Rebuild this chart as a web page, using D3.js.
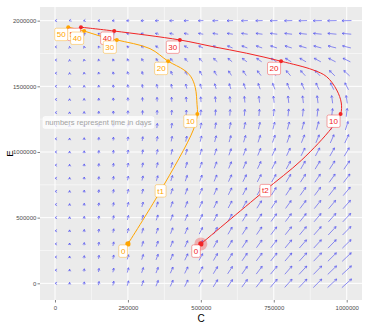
<!DOCTYPE html>
<html>
<head>
<meta charset="utf-8">
<script src="https://cdn.jsdelivr.net/npm/d3@7"></script>
<style>
  html, body { margin: 0; padding: 0; background: #fff; }
  svg { display: block; font-family: "Liberation Sans", Arial, sans-serif; }
</style>
</head>
<body>
<svg id="chart" width="365" height="323"></svg>
<script>
// ---- vector field grid ----
const fieldC = [0, 50000, 100000, 150000, 200000, 250000, 300000, 350000, 400000, 450000, 500000,
                550000, 600000, 650000, 700000, 750000, 800000, 850000, 900000, 950000, 1000000];
const fieldE = [0, 100000, 200000, 300000, 400000, 500000, 600000, 700000, 800000, 900000, 1000000,
                1100000, 1200000, 1300000, 1400000, 1500000, 1600000, 1700000, 1800000, 1900000, 2000000];
// per-capita change of C per day, one value per E row
const rateC = [0.188, 0.174, 0.160, 0.146, 0.132, 0.118, 0.104, 0.090, 0.076, 0.062, 0.049,
               0.035, 0.021, 0.007, -0.007, -0.021, -0.035, -0.049, -0.063, -0.076, -0.090];
// change of E per day, one value per E row
const rateE = [168300, 159800, 151300, 142800, 134300, 125800, 117300, 108800, 100300, 91800, 83300,
               74800, 66300, 57800, 49300, 40800, 32300, 23800, 15300, 6800, -1700];

// ---- trajectories ----
const labelTimes = [0, 10, 20, 30, 40, 50];
const labelE  = [300000, 1289000, 1691000, 1853000, 1921000, 1950000];
const t2LabelC = [500000, 979000, 775000, 428000, 203000, 89000];
const t1LabelC = [250000, 488000, 388000, 212000, 100000, 45500];

const t2PathC = [500000, 713000, 845700, 948500, 979000, 981400, 965700, 931400, 884400, 775000, 657000, 541600, 428000, 203000, 89000];
const t2PathE = [300000, 695000, 939000, 1183000, 1289000, 1373000, 1472000, 1573000, 1625000, 1691000, 1752000, 1802000, 1853000, 1921000, 1950000];
const t1PathC = [250000, 360000, 474000, 488000, 487000, 481000, 466000, 442000, 388000, 325700, 212000, 154300, 100000, 45500];
const t1PathE = [300000, 697600, 1167500, 1289000, 1360000, 1490000, 1573000, 1625000, 1691000, 1787000, 1853000, 1883000, 1921000, 1950000];

const seriesNames = ["t1", "t2"];
const nameC = [362000, 721000];
const nameE = [704000, 706000];

const noteText = "numbers represent time in days";
const noteC = 148500, noteE = 1225000;

const xTicks = [0, 250000, 500000, 750000, 1000000];
const xMinor = [125000, 375000, 625000, 875000];
const yTicks = [0, 500000, 1000000, 1500000, 2000000];
const yMinor = [250000, 750000, 1250000, 1750000];

// ---- layout ----
const panel = { left: 40, right: 362, top: 7, bottom: 300 };
const x = d3.scaleLinear().domain([-51400, 1052400]).range([panel.left, panel.right]);
const y = d3.scaleLinear().domain([-127000, 2104000]).range([panel.bottom, panel.top]);

const svg = d3.select("#chart");

svg.append("rect")
  .attr("x", panel.left).attr("y", panel.top)
  .attr("width", panel.right - panel.left).attr("height", panel.bottom - panel.top)
  .attr("fill", "#EBEBEB");

const grid = svg.append("g");
grid.selectAll(".xminor").data(xMinor).join("line")
  .attr("x1", d => x(d)).attr("x2", d => x(d))
  .attr("y1", panel.top).attr("y2", panel.bottom)
  .attr("stroke", "#fff").attr("stroke-width", 0.5);
grid.selectAll(".yminor").data(yMinor).join("line")
  .attr("y1", d => y(d)).attr("y2", d => y(d))
  .attr("x1", panel.left).attr("x2", panel.right)
  .attr("stroke", "#fff").attr("stroke-width", 0.5);
grid.selectAll(".xmajor").data(xTicks).join("line")
  .attr("x1", d => x(d)).attr("x2", d => x(d))
  .attr("y1", panel.top).attr("y2", panel.bottom)
  .attr("stroke", "#fff").attr("stroke-width", 1);
grid.selectAll(".ymajor").data(yTicks).join("line")
  .attr("y1", d => y(d)).attr("y2", d => y(d))
  .attr("x1", panel.left).attr("x2", panel.right)
  .attr("stroke", "#fff").attr("stroke-width", 1);

// ---- vector field arrows ----
const arrows = [];
fieldE.forEach((e, i) => {
  fieldC.forEach(c => {
    arrows.push({ c, e, dC: c * rateC[i], dE: rateE[i] });
  });
});
const maxMag = d3.max(arrows, a => Math.hypot(a.dC, a.dE));
const maxC = d3.max(fieldC);

function arrowPath(a) {
  const cx = x(a.c), cy = y(a.e);
  const head = 2.4, spread = Math.PI / 6;
  let ux, uy, len;
  if (a.c === 0) {
    ux = -1; uy = 0; len = 0;
  } else {
    const mag = Math.hypot(a.dC, a.dE);
    ux = a.dC / mag; uy = -a.dE / mag;
    len = 13 * Math.pow(a.c / maxC, 0.6) * Math.pow(mag / maxMag, 0.3);
  }
  const x0 = cx - ux * len / 2, y0 = cy - uy * len / 2;
  const x1 = cx + ux * len / 2, y1 = cy + uy * len / 2;
  const ang = Math.atan2(uy, ux) + Math.PI;
  const hx1 = x1 + head * Math.cos(ang - spread), hy1 = y1 + head * Math.sin(ang - spread);
  const hx2 = x1 + head * Math.cos(ang + spread), hy2 = y1 + head * Math.sin(ang + spread);
  return `M${x0},${y0}L${x1},${y1}M${hx1},${hy1}L${x1},${y1}L${hx2},${hy2}`;
}

svg.append("g").selectAll("path").data(arrows).join("path")
  .attr("d", arrowPath)
  .attr("fill", "none")
  .attr("stroke", "#4F4FF0")
  .attr("stroke-opacity", 0.85)
  .attr("stroke-width", 0.75)
  .attr("stroke-linejoin", "miter");

// ---- trajectories ----
const line = d3.line().x(d => x(d[0])).y(d => y(d[1])).curve(d3.curveCatmullRom.alpha(0.5));
const series = [
  { name: seriesNames[0], color: "#FFA500", pathC: t1PathC, pathE: t1PathE, labC: t1LabelC, nC: nameC[0], nE: nameE[0] },
  { name: seriesNames[1], color: "#F22424", pathC: t2PathC, pathE: t2PathE, labC: t2LabelC, nC: nameC[1], nE: nameE[1] }
];

// red start highlight
svg.append("circle")
  .attr("cx", x(t2LabelC[0])).attr("cy", y(labelE[0])).attr("r", 6.5)
  .attr("fill", "#F22424").attr("fill-opacity", 0.3);

[series[1], series[0]].forEach(s => {
  svg.append("path")
    .attr("d", line(s.pathC.map((c, i) => [c, s.pathE[i]])))
    .attr("fill", "none").attr("stroke", s.color).attr("stroke-width", 1);
});

[series[1], series[0]].forEach(s => {
  svg.append("g").selectAll("circle").data(labelTimes).join("circle")
    .attr("cx", (d, i) => x(s.labC[i])).attr("cy", (d, i) => y(labelE[i]))
    .attr("r", (d, i) => i === 0 ? 2.6 : 2)
    .attr("fill", s.color);
});

// label box helper: anchor = "tr" puts top-right corner at the point, "c" centers it
function drawLabel(g, px, py, text, color, anchor, fontSize) {
  const lg = g.append("g");
  const t = lg.append("text").text(text)
    .attr("font-size", fontSize).attr("fill", color)
    .attr("text-anchor", "middle");
  const bb = t.node().getBBox();
  const padX = 1.8, padY = 1.6;
  const w = bb.width + 2 * padX, h = fontSize * 1.15 + 2 * padY;
  let bx, by;
  if (anchor === "tr") { bx = px - w - 0.5; by = py + 1; }
  else { bx = px - w / 2; by = py - h / 2; }
  lg.insert("rect", "text")
    .attr("x", bx).attr("y", by).attr("width", w).attr("height", h)
    .attr("rx", 1.6).attr("ry", 1.6)
    .attr("fill", "#fff")
    .attr("stroke", color).attr("stroke-opacity", 0.45).attr("stroke-width", 0.9);
  t.attr("x", bx + w / 2).attr("y", by + padY + fontSize * 0.92);
}

const labels = svg.append("g");
[series[1], series[0]].forEach(s => {
  labelTimes.forEach((tm, i) => {
    drawLabel(labels, x(s.labC[i]), y(labelE[i]), String(tm), s.color, "tr", 8);
  });
  drawLabel(labels, x(s.nC), y(s.nE), s.name, s.color, "c", 8);
});

// note
(function () {
  const g = svg.append("g");
  const t = g.append("text").text(noteText)
    .attr("font-size", 7.6).attr("fill", "#A3A3A3").attr("text-anchor", "middle")
    .attr("x", x(noteC)).attr("y", y(noteE) + 2.6);
  const bb = t.node().getBBox();
  g.insert("rect", "text")
    .attr("x", bb.x - 2).attr("y", y(noteE) - 5.8)
    .attr("width", bb.width + 4).attr("height", 11.6)
    .attr("rx", 1.5)
    .attr("fill", "#fff").attr("fill-opacity", 0.75)
    .attr("stroke", "#fff").attr("stroke-width", 0.8);
})();

// ---- axes ----
const xAxis = svg.append("g")
  .attr("transform", `translate(0,${panel.bottom})`)
  .call(d3.axisBottom(x).tickValues(xTicks).tickFormat(d3.format("d")).tickSize(2.5).tickPadding(3.5));
const yAxis = svg.append("g")
  .attr("transform", `translate(${panel.left},0)`)
  .call(d3.axisLeft(y).tickValues(yTicks).tickFormat(d3.format("d")).tickSize(2.5).tickPadding(1.2));
[xAxis, yAxis].forEach(a => {
  a.select(".domain").remove();
  a.selectAll(".tick line").attr("stroke", "#333").attr("stroke-width", 0.6);
  a.selectAll(".tick text").attr("fill", "#4D4D4D").attr("font-size", 6)
    .attr("font-family", "Liberation Sans, Arial, sans-serif");
});

svg.append("text").text("C")
  .attr("x", (panel.left + panel.right) / 2).attr("y", 321.5)
  .attr("text-anchor", "middle").attr("font-size", 10).attr("fill", "#000");
svg.append("text").text("E")
  .attr("transform", `translate(13.3,${(panel.top + panel.bottom) / 2}) rotate(-90)`)
  .attr("text-anchor", "middle").attr("font-size", 9.5).attr("fill", "#000");
</script>
</body>
</html>
